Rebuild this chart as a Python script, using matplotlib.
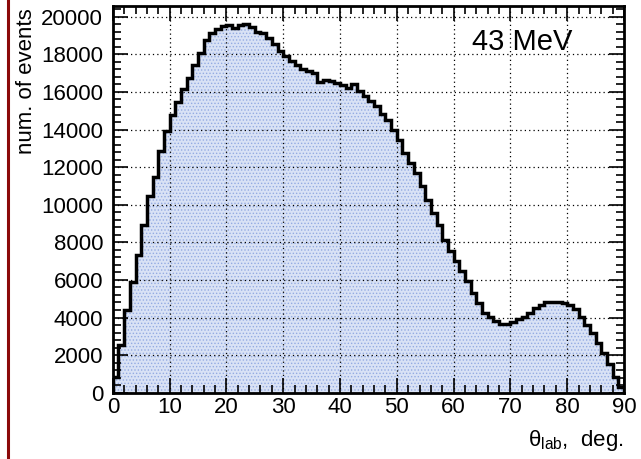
import matplotlib
matplotlib.use("Agg")
import matplotlib.pyplot as plt
import numpy as np
from matplotlib.lines import Line2D
from matplotlib.ticker import MultipleLocator

plt.rcParams['font.family'] = ['Liberation Sans', 'DejaVu Sans']
plt.rcParams['mathtext.fontset'] = 'custom'
plt.rcParams['mathtext.rm'] = 'Liberation Sans'
plt.rcParams['mathtext.it'] = 'Liberation Sans:italic'
plt.rcParams['hatch.linewidth'] = 0.6

# histogram: counts per 1-degree bin, 0..90 deg
bin_edges = list(range(0, 91))
counts = [
    850, 2550, 4400, 5900, 7350, 8900, 10450, 11500, 12850, 13950,
    14750, 15450, 16150, 16750, 17450, 18080, 18750, 19150, 19360, 19500,
    19540, 19410, 19570, 19640, 19470, 19200, 19150, 18850, 18550, 18170,
    17900, 17640, 17410, 17230, 17100, 17020, 16520, 16620, 16570, 16480,
    16390, 16220, 16430, 16040, 15770, 15540, 15240, 14850, 14490, 14000,
    13470, 12770, 12220, 11690, 10980, 10270, 9560, 8930, 8140, 7520,
    6990, 6500, 5970, 5300, 4760, 4260, 4010, 3840, 3640, 3650,
    3750, 3910, 4050, 4260, 4500, 4670, 4850, 4820, 4820, 4760,
    4670, 4440, 4050, 3610, 3160, 2660, 2130, 1510, 850, 320,
]
energy_label = "43 MeV"

fig = plt.figure(figsize=(6.41, 4.59), dpi=100)
ax = fig.add_axes([0.176, 0.1444, 0.7975, 0.8436])

# filled area with a fine dotted pattern
ax.stairs(counts, bin_edges, fill=True, facecolor='#d9e2f5', edgecolor='#94abe2',
          hatch='.....', linewidth=0, zorder=1)
ax.stairs(counts, bin_edges, baseline=0, color='black', linewidth=2.5, zorder=4)

ax.set_xlim(0, 90)
ax.set_ylim(0, 20600)

ax.xaxis.set_major_locator(MultipleLocator(10))
ax.xaxis.set_minor_locator(MultipleLocator(2))
ax.yaxis.set_major_locator(MultipleLocator(2000))
ax.yaxis.set_minor_locator(MultipleLocator(400))

ax.tick_params(which='both', direction='in', top=True, right=True, colors='black',
               width=1.2, labelsize=16)
ax.tick_params(which='major', length=11)
ax.tick_params(which='minor', length=5.5)
ax.tick_params(axis='y', pad=7)
ax.tick_params(axis='x', pad=3)

ax.set_axisbelow(False)
ax.grid(True, which='major', linestyle=(0, (1, 2.5)), color='black', linewidth=0.9, zorder=2)

for s in ax.spines.values():
    s.set_linewidth(2)
    s.set_zorder(5)

ax.set_ylabel("num. of events", fontsize=16, ha='right', va='bottom')
ax.yaxis.set_label_coords(-0.148, 0.993)
ax.set_xlabel(r"$\mathregular{\theta_{lab}}$,  deg.", fontsize=16, ha='right')
ax.xaxis.set_label_coords(1.0, -0.09)

ax.text(0.80, 0.905, energy_label, transform=ax.transAxes, fontsize=21,
        ha='center', va='center', zorder=6)

# dark red rule at the left edge of the image
fig.add_artist(Line2D([7.5 / 641, 7.5 / 641], [0, 1], transform=fig.transFigure,
                      color='#8b0a0a', linewidth=2.2))

fig.savefig("out.png", dpi=100)
